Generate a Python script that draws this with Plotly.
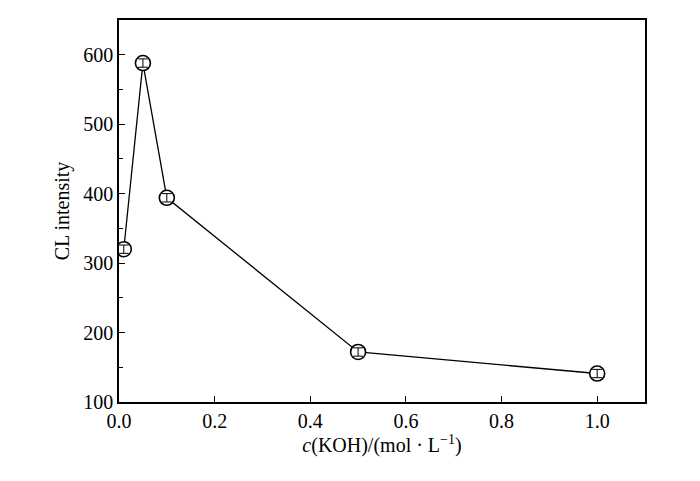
import plotly.graph_objects as go

koh_conc = [0.01, 0.05, 0.1, 0.5, 1.0]
cl_intensity = [320, 588, 394, 172, 141]
cl_error = [6, 6, 6, 6, 6]

FONT = "Liberation Serif, Times New Roman, serif"

fig = go.Figure()
# connecting line
fig.add_trace(go.Scatter(
    x=koh_conc, y=cl_intensity, mode="lines",
    line=dict(color="black", width=1.3), showlegend=False,
))
# white-filled circles so the line stops at the marker edge
fig.add_trace(go.Scatter(
    x=koh_conc, y=cl_intensity, mode="markers",
    marker=dict(symbol="circle", size=15, color="white", line=dict(width=1.6, color="black")),
    showlegend=False,
))
# error bars drawn on top, inside the circles
fig.add_trace(go.Scatter(
    x=koh_conc, y=cl_intensity, mode="markers",
    marker=dict(size=1, color="rgba(0,0,0,0)"),
    error_y=dict(type="data", array=cl_error, color="black", thickness=1, width=5),
    showlegend=False,
))

axis_common = dict(
    showline=True,
    linecolor="black",
    linewidth=1.5,
    mirror=True,
    ticks="inside",
    ticklen=6,
    tickwidth=1.3,
    tickcolor="black",
    showgrid=False,
    zeroline=False,
    tickfont=dict(family=FONT, size=20, color="black"),
)

fig.update_xaxes(
    **axis_common,
    range=[0, 1.1],
    tickvals=[0, 0.2, 0.4, 0.6, 0.8, 1.0],
    tickformat=".1f",
    title=dict(text="<i>c</i>(KOH)/(mol · L<sup>−1</sup>)",
               font=dict(family=FONT, size=20, color="black"), standoff=4),
)
fig.update_yaxes(
    **axis_common,
    range=[100, 650],
    tickvals=[100, 200, 300, 400, 500, 600],
    minor=dict(tickvals=[150, 250, 350, 450, 550], ticks="inside", ticklen=4,
               tickcolor="black", tickwidth=1.2),
    title=dict(text="CL intensity", font=dict(family=FONT, size=20, color="black"), standoff=8),
)

# page body adds an 8px offset, so margins are shifted to compensate
fig.update_layout(
    width=700,
    height=481,
    margin=dict(l=111, r=63, t=10, b=87),
    plot_bgcolor="white",
    paper_bgcolor="white",
)

fig.write_html("out.html")
